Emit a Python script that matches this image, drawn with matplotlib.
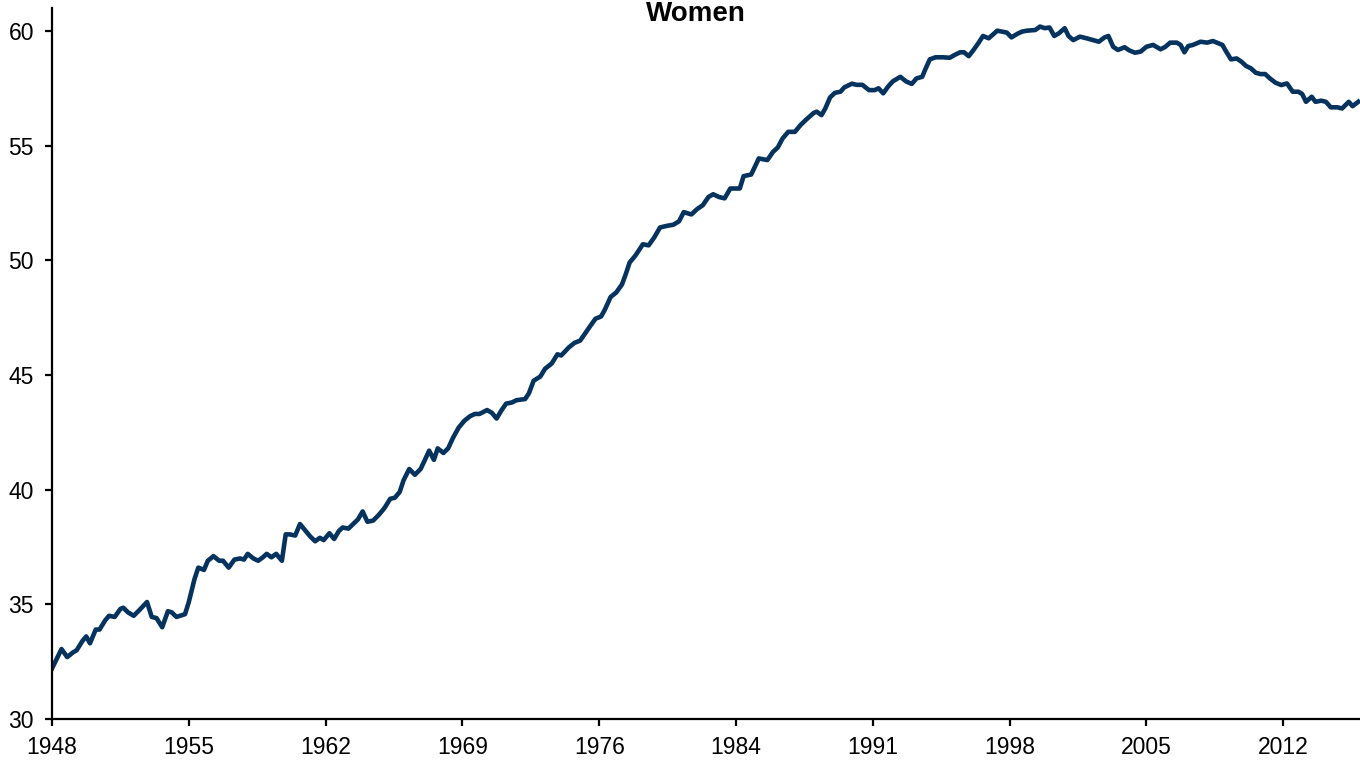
import matplotlib
matplotlib.use("Agg")
import matplotlib.pyplot as plt

plt.rcParams["font.family"] = ["Liberation Sans", "DejaVu Sans"]

# labour force participation rate, women (%)
years = [
    1948.0, 1948.5, 1948.8, 1949.1, 1949.3, 1949.6, 1949.8, 1950.0, 1950.3, 1950.5,
    1950.8, 1951.0, 1951.3, 1951.6, 1951.75, 1952.0, 1952.3, 1952.6, 1953.0, 1953.25,
    1953.5, 1953.8, 1954.1, 1954.3, 1954.55, 1955.0, 1955.2, 1955.5, 1955.7, 1956.0,
    1956.2, 1956.5, 1956.8, 1957.0, 1957.3, 1957.6, 1957.9, 1958.1, 1958.3, 1958.6,
    1958.85, 1959.1, 1959.3, 1959.55, 1959.8, 1960.1, 1960.3, 1960.5, 1960.8, 1961.05,
    1961.3, 1961.6, 1961.85, 1962.1, 1962.3, 1962.6, 1962.85, 1963.1, 1963.3, 1963.6,
    1963.85, 1964.1, 1964.35, 1964.6, 1964.9, 1965.2, 1965.5, 1965.8, 1966.05, 1966.3,
    1966.5, 1966.8, 1967.1, 1967.4, 1967.6, 1967.85, 1968.1, 1968.3, 1968.6, 1968.85,
    1969.1, 1969.4, 1969.7, 1970.0, 1970.25, 1970.5, 1970.9, 1971.15, 1971.4, 1971.65,
    1971.9, 1972.2, 1972.45, 1972.9, 1973.1, 1973.35, 1973.7, 1973.95, 1974.3, 1974.6,
    1974.8, 1975.2, 1975.5, 1975.8, 1976.05, 1976.3, 1976.6, 1976.9, 1977.1, 1977.4,
    1977.7, 1978.0, 1978.2, 1978.4, 1978.7, 1979.1, 1979.4, 1979.7, 1980.0, 1980.35,
    1980.7, 1981.0, 1981.25, 1981.65, 1981.95, 1982.25, 1982.55, 1982.8, 1983.1, 1983.4,
    1983.7, 1984.2, 1984.4, 1984.8, 1985.2, 1985.65, 1985.95, 1986.2, 1986.45, 1986.75,
    1987.1, 1987.4, 1987.7, 1988.1, 1988.25, 1988.5, 1988.7, 1988.95, 1989.2, 1989.5,
    1989.7, 1990.1, 1990.35, 1990.65, 1991.0, 1991.3, 1991.5, 1991.75, 1992.0, 1992.25,
    1992.65, 1992.95, 1993.25, 1993.5, 1993.8, 1993.95, 1994.2, 1994.5, 1994.9, 1995.25,
    1995.5, 1995.8, 1996.0, 1996.25, 1996.5, 1996.75, 1997.0, 1997.3, 1997.75, 1998.25,
    1998.5, 1998.8, 1999.05, 1999.3, 1999.75, 2000.0, 2000.25, 2000.5, 2000.75, 2001.0,
    2001.3, 2001.5, 2001.75, 2002.1, 2002.45, 2002.8, 2003.1, 2003.4, 2003.6, 2003.85,
    2004.1, 2004.45, 2004.7, 2005.0, 2005.3, 2005.6, 2005.95, 2006.35, 2006.6, 2006.85,
    2007.2, 2007.4, 2007.6, 2007.8, 2008.05, 2008.45, 2008.8, 2009.1, 2009.3, 2009.6,
    2009.8, 2010.05, 2010.35, 2010.6, 2010.85, 2011.1, 2011.35, 2011.6, 2011.85, 2012.1,
    2012.4, 2012.7, 2013.0, 2013.3, 2013.6, 2013.8, 2014.0, 2014.3, 2014.5, 2014.8,
    2015.05, 2015.3, 2015.65, 2015.9, 2016.25, 2016.45, 2016.75,
]
rate = [
    32.2, 33.05, 32.7, 32.9, 33.0, 33.4, 33.6, 33.3, 33.9, 33.9,
    34.3, 34.5, 34.45, 34.8, 34.85, 34.65, 34.5, 34.75, 35.1, 34.45,
    34.4, 34.0, 34.7, 34.65, 34.45, 34.57, 35.1, 36.1, 36.6, 36.5,
    36.9, 37.1, 36.9, 36.9, 36.6, 36.95, 37.0, 36.95, 37.2, 37.0,
    36.9, 37.05, 37.2, 37.05, 37.2, 36.9, 38.05, 38.05, 38.0, 38.5,
    38.25, 37.95, 37.75, 37.9, 37.8, 38.1, 37.85, 38.2, 38.35, 38.3,
    38.5, 38.7, 39.05, 38.6, 38.65, 38.9, 39.2, 39.6, 39.65, 39.9,
    40.4, 40.9, 40.65, 40.9, 41.25, 41.7, 41.3, 41.8, 41.6, 41.8,
    42.25, 42.7, 43.0, 43.2, 43.3, 43.3, 43.47, 43.35, 43.1, 43.45,
    43.75, 43.8, 43.9, 43.95, 44.2, 44.75, 44.93, 45.27, 45.5, 45.9,
    45.85, 46.2, 46.4, 46.5, 46.8, 47.1, 47.45, 47.55, 47.85, 48.4,
    48.6, 48.95, 49.4, 49.9, 50.2, 50.7, 50.65, 51.0, 51.43, 51.5,
    51.55, 51.7, 52.1, 52.0, 52.23, 52.4, 52.76, 52.88, 52.76, 52.7,
    53.13, 53.13, 53.67, 53.74, 54.44, 54.37, 54.73, 54.92, 55.31, 55.6,
    55.6, 55.9, 56.14, 56.43, 56.48, 56.33, 56.62, 57.1, 57.3, 57.35,
    57.54, 57.7, 57.65, 57.65, 57.42, 57.42, 57.5, 57.28, 57.57, 57.8,
    58.0, 57.8, 57.69, 57.93, 58.0, 58.3, 58.76, 58.85, 58.85, 58.83,
    58.95, 59.07, 59.07, 58.9, 59.17, 59.46, 59.78, 59.68, 60.01, 59.93,
    59.72, 59.87, 59.97, 60.01, 60.04, 60.19, 60.12, 60.15, 59.78, 59.9,
    60.12, 59.78, 59.6, 59.75, 59.68, 59.6, 59.53, 59.72, 59.78, 59.31,
    59.17, 59.29, 59.15, 59.05, 59.1, 59.31, 59.39, 59.2, 59.31, 59.49,
    59.49, 59.39, 59.07, 59.34, 59.39, 59.53, 59.49, 59.56, 59.49, 59.39,
    59.1, 58.76, 58.8, 58.66, 58.47, 58.37, 58.18, 58.12, 58.12, 57.93,
    57.74, 57.64, 57.71, 57.35, 57.35, 57.25, 56.91, 57.13, 56.91, 56.96,
    56.91, 56.67, 56.67, 56.62, 56.91, 56.72, 56.91,
]

tick_labels = ["1948", "1955", "1962", "1969", "1976", "1984", "1991", "1998", "2005", "2012"]
y_ticks = [30, 35, 40, 45, 50, 55, 60]

fig = plt.figure(figsize=(13.6, 7.6), dpi=100)
ax = fig.add_axes([52 / 1360, 1 - 719 / 760, 1308 / 1360, 711 / 760])

ax.plot(years, rate, color="#06325e", lw=3.3, solid_joinstyle="round")

ax.set_xlim(1948, 1948 + 1308 / 19.0)
ax.set_ylim(30, 61)
ax.set_xticks([1948 + 7.2 * i for i in range(len(tick_labels))])
ax.set_xticklabels(tick_labels)
ax.set_yticks(y_ticks)

for s in ["top", "right"]:
    ax.spines[s].set_visible(False)
for s in ["left", "bottom"]:
    ax.spines[s].set_linewidth(1.6)
ax.tick_params(axis="both", direction="out", length=5, width=1.6, labelsize=16.5, colors="black")
ax.tick_params(axis="y", pad=8)
ax.tick_params(axis="x", pad=7)

fig.text(696 / 1360, 1 - 14 / 760, "Women", ha="center", va="center",
         fontsize=20, fontweight="bold")

fig.savefig("out.png", dpi=100)
